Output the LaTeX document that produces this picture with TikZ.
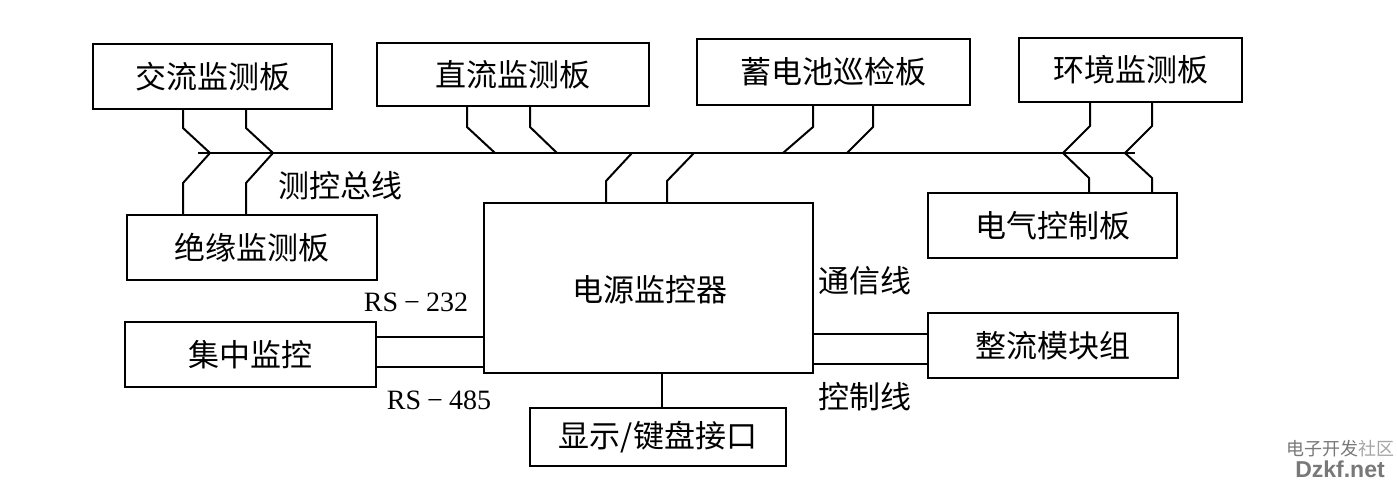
\documentclass[tikz,border=0pt]{standalone}
\usepackage{fontspec}
\setmainfont{Liberation Serif}
\newfontfamily\cjk{Noto Sans CJK SC}
\newfontfamily\wmfont{Liberation Sans}
\definecolor{wmgray}{RGB}{120,120,120}
\definecolor{wmlight}{RGB}{165,165,165}
\begin{document}
\begin{tikzpicture}[x=1pt,y=-1pt,
  box/.style={draw, line width=2.4pt, inner sep=0pt, font=\cjk\fontsize{31}{31}\selectfont},
  wire/.style={line width=2pt, line join=miter},
  lbl/.style={font=\cjk\fontsize{31}{31}\selectfont, inner sep=0pt},
  rs/.style={font=\fontsize{28}{28}\selectfont, inner sep=0pt}]
\fill[white] (0,0) rectangle (1397,481);
\useasboundingbox (0,0) rectangle (1397,481);

% boxes
\node[box, minimum width=239pt, minimum height=65pt] (ac)   at (212.5,76.5) {交流监测板};
\node[box, minimum width=272pt, minimum height=63pt] (dc)   at (513,74.5)   {直流监测板};
\node[box, minimum width=273pt, minimum height=66pt] (bat)  at (833.5,72)   {蓄电池巡检板};
\node[box, minimum width=223pt, minimum height=64pt] (env)  at (1130.5,70)  {环境监测板};
\node[box, minimum width=249pt, minimum height=65pt] (elec) at (1052.5,225.5) {电气控制板};
\node[box, minimum width=250pt, minimum height=65pt] (ins)  at (252,247.5)  {绝缘监测板};
\node[box, minimum width=329pt, minimum height=170pt] (mon) at (648.5,288)  {};
\node[lbl] (montext) at (650,290) {电源监控器};
\node[box, minimum width=251pt, minimum height=65pt] (cen)  at (250.5,354.5) {集中监控};
\node[box, minimum width=256pt, minimum height=58pt] (disp) at (658,437)    {显示/键盘接口};
\node[box, minimum width=250pt, minimum height=65pt] (rect) at (1053,345.5)  {整流模块组};

% bus
\coordinate (busL) at (198,153);
\coordinate (busR) at (1135,153);
\draw[wire] (busL) -- (busR);

% junctions on the bus
\coordinate (j1) at (210,153);  \coordinate (j2) at (273,153);
\coordinate (j3) at (495,153);  \coordinate (j4) at (557,153);
\coordinate (j5) at (632,153);  \coordinate (j6) at (694,153);
\coordinate (j7) at (783,153);  \coordinate (j8) at (847,153);
\coordinate (j9) at (1063,153); \coordinate (j10) at (1125,153);

% kinks
\coordinate (a1) at (183,128); \coordinate (a2) at (246,128);
\coordinate (b1) at (183,183); \coordinate (b2) at (246,183);
\coordinate (c1) at (467,127); \coordinate (c2) at (530,127);
\coordinate (d1) at (606,181); \coordinate (d2) at (667,181);
\coordinate (e1) at (813,127); \coordinate (e2) at (873,127);
\coordinate (f1) at (1090,126); \coordinate (f2) at (1152,126);
\coordinate (g1) at (1089,178); \coordinate (g2) at (1152,178);

\draw[wire] (ac.south -| a1) -- (a1) -- (j1);
\draw[wire] (ac.south -| a2) -- (a2) -- (j2);
\draw[wire] (ins.north -| b1) -- (b1) -- (j1);
\draw[wire] (ins.north -| b2) -- (b2) -- (j2);
\draw[wire] (dc.south -| c1) -- (c1) -- (j3);
\draw[wire] (dc.south -| c2) -- (c2) -- (j4);
\draw[wire] (mon.north -| d1) -- (d1) -- (j5);
\draw[wire] (mon.north -| d2) -- (d2) -- (j6);
\draw[wire] (bat.south -| e1) -- (e1) -- (j7);
\draw[wire] (bat.south -| e2) -- (e2) -- (j8);
\draw[wire] (env.south -| f1) -- (f1) -- (j9);
\draw[wire] (env.south -| f2) -- (f2) -- (j10);
\draw[wire] (elec.north -| g1) -- (g1) -- (j9);
\draw[wire] (elec.north -| g2) -- (g2) -- (j10);

% left links
\coordinate (h1) at (0,337); \coordinate (h2) at (0,367);
\draw[wire] (cen.east |- h1) -- (mon.west |- h1);
\draw[wire] (cen.east |- h2) -- (mon.west |- h2);
% right links
\coordinate (r1) at (0,334); \coordinate (r2) at (0,364);
\draw[wire] (mon.east |- r1) -- (rect.west |- r1);
\draw[wire] (mon.east |- r2) -- (rect.west |- r2);
% display link
\coordinate (v) at (662,0);
\draw[wire] (mon.south -| v) -- (disp.north -| v);

% labels
\node[lbl] (buslbl) at (340,186) {测控总线};
\node[rs] (rs232) at (416,302) {RS\hspace{6pt}−\hspace{6pt}232};
\node[rs] (rs485) at (439,400) {RS\hspace{6pt}−\hspace{6pt}485};
\node[lbl] (comm) at (865,281) {通信线};
\node[lbl] (ctrl) at (865,397) {控制线};

% watermark
\node[inner sep=0pt, font=\cjk\fontsize{18}{18}\selectfont] (wm1) at (1340,449) {\textcolor{wmgray}{电子开发}\textcolor{wmlight}{社区}};
\node[inner sep=0pt, font=\wmfont\bfseries\fontsize{23}{23}\selectfont, text=wmgray] (wm2) at (1340,469) {Dzkf.net};
\end{tikzpicture}
\end{document}
